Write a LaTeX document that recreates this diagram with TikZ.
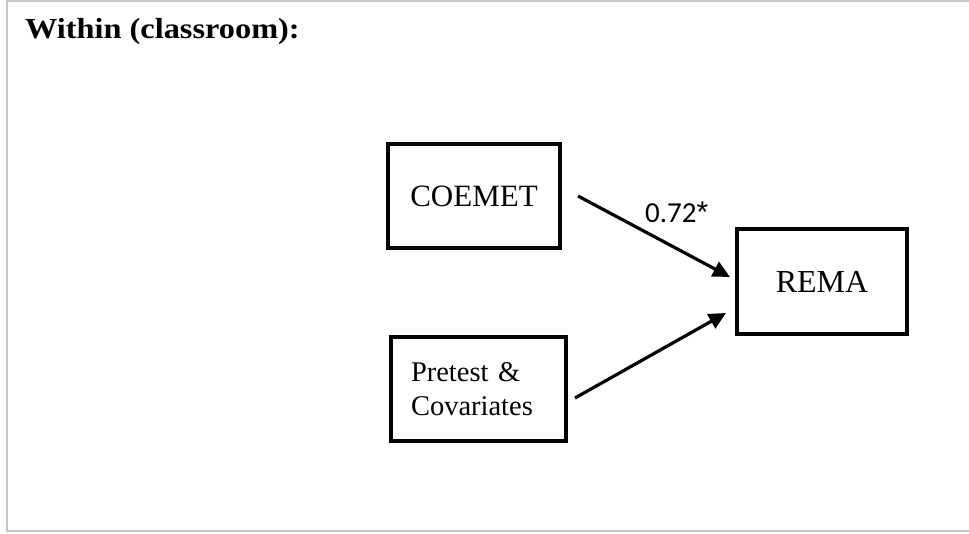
\documentclass[tikz,border=0pt]{standalone}
\usepackage{fontspec}
\usepackage{graphicx}
\setmainfont{Liberation Serif}
\newfontfamily\lblfont{Carlito}
\newfontfamily\starfont{Liberation Sans}
\usetikzlibrary{arrows.meta}
\begin{document}
\begin{tikzpicture}[x=1pt,y=-1pt,
  frame/.style={draw=black!22, line width=2pt},
  boxnode/.style={draw=black, line width=3.4pt, inner sep=0pt},
  pathline/.style={draw=black, line width=3.2pt, -{Triangle[length=17pt,width=16pt]}}]
\useasboundingbox (0,0) rectangle (969,533);
% outer frame
\draw[frame] (969,1) -- (6.5,1) -- (6.5,531) -- (969,531);
% title
\node[anchor=base west, inner sep=0pt, font=\fontsize{29}{34}\selectfont\bfseries] (title) at (25,38) {\scalebox{1.115}[1]{Within (classroom):}};
% boxes
\node[boxnode, minimum width=172pt, minimum height=104pt, font=\fontsize{31}{36}\selectfont] (coemet) at (474,196) {COEMET};
\node[boxnode, minimum width=170pt, minimum height=105pt, font=\fontsize{32}{36}\selectfont] (rema) at (822,281.5) {REMA};
\node[boxnode, minimum width=175pt, minimum height=104pt, inner xsep=20pt, text width=135pt, align=left, font=\fontsize{28.5}{34}\selectfont] (pre) at (478.5,389) {Pretest \&\\Covariates};
% connector end points
\coordinate (a1s) at (578,196);
\coordinate (a1e) at (730,277);
\coordinate (a2s) at (575,398);
\coordinate (a2e) at (726,313);
\draw[pathline] (a1s) -- (a1e);
\draw[pathline] (a2s) -- (a2e);
% path label
\node[anchor=base west, inner sep=0pt, font=\lblfont\fontsize{29}{32}\selectfont] (lbl) at (645,222) {0.72{\starfont\fontsize{30}{32}\selectfont*}};
\end{tikzpicture}
\end{document}
